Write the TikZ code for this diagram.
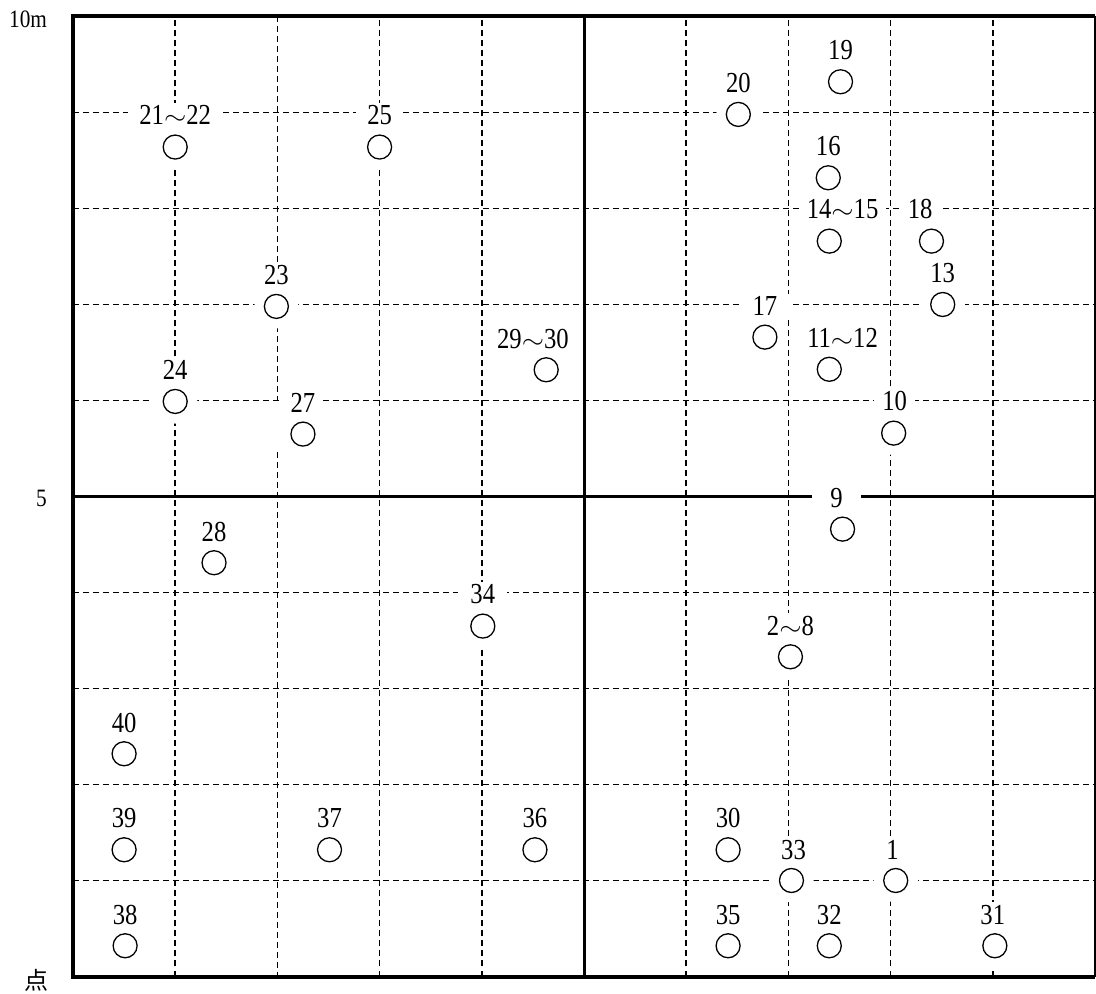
\documentclass[tikz,border=0pt]{standalone}
\usepackage{fontspec}
\setmainfont{Liberation Serif}[FakeStretch=0.85]
\newfontfamily\cjkfont{Noto Sans CJK JP}
\newcommand{\wave}{\scalebox{1.15}[1]{$\sim$}}
\begin{document}
\begin{tikzpicture}[x=102.2pt,y=96pt,
  frameline/.style={line width=4pt},
  midline/.style={line width=3pt},
  gridline/.style={line width=1.5pt, dash pattern=on 6pt off 4pt},
  pt/.style={circle, draw, line width=1.3pt, minimum size=24pt, inner sep=0pt, fill=white,
             preaction={draw=white, line width=20pt}},
  lbl/.style={fill=white, inner xsep=8pt, inner ysep=3pt, font=\fontsize{29}{29}\selectfont},
  axis/.style={font=\fontsize{25}{25}\selectfont},
]
\useasboundingbox (-73pt,-17.5pt) rectangle (1023pt,976.5pt);

% grid
\foreach \g in {1,3,4,6,7,8,9} \draw[gridline] (\g,0) -- (\g,10);
\draw[gridline] (2,10) -- (2,6);
\draw[gridline] (2,5.46) -- (2,0);
\foreach \g in {1,2,3,4,6,7,8,9} \draw[gridline] (0,\g) -- (10,\g);

% frame and middle lines
\draw[midline] (5,0) -- (5,10);
\draw[midline] (0,5) -- (10,5);
\draw[frameline] (10,10) -- (0,10) -- (0,0) -- (10,0);
\draw[line width=2pt] (10,0) -- (10,10);

% points
\foreach \n/\x/\y in {
  1/8.05/1.0, 2/7.02/3.33, 9/7.53/4.66, 10/8.03/5.66, 11/7.40/6.325,
  13/8.51/7.0, 14/7.40/7.66, 16/7.39/8.32, 17/6.77/6.66, 18/8.40/7.66,
  19/7.51/9.32, 20/6.51/8.98, 21/1.0/8.64, 23/1.99/6.98, 24/1.0/5.99,
  25/3.0/8.64, 27/2.25/5.65, 28/1.38/4.31, 29/4.63/6.32, 30/6.41/1.32,
  31/9.02/0.32, 32/7.40/0.32, 33/7.03/1.0, 34/4.01/3.65, 35/6.41/0.32,
  36/4.52/1.32, 37/2.51/1.32, 38/0.51/0.32, 39/0.5/1.32, 40/0.5/2.32}
  \node[pt] (p\n) at (\x,\y) {};

% labels
\node[lbl] (l1) at (8.02,1.32) {1};
\node[lbl] (l2) at (7.02,3.65) {2\wave 8};
\node[lbl, inner xsep=18pt] (l9) at (7.47,4.98) {9};
\node[lbl] (l10) at (8.04,5.99) {10};
\node[lbl] (l11) at (7.53,6.65) {11\wave 12};
\node[lbl] (l13) at (8.51,7.33) {13};
\node[lbl] (l14) at (7.53,7.99) {14\wave 15};
\node[lbl] (l16) at (7.39,8.65) {16};
\node[lbl, inner xsep=14pt] (l17) at (6.77,6.98) {17};
\node[lbl] (l18) at (8.29,7.99) {18};
\node[lbl] (l19) at (7.51,9.65) {19};
\node[lbl] (l20) at (6.51,9.31) {20};
\node[lbl, inner xsep=11pt] (l21) at (1.0,8.97) {21\wave 22};
\node[lbl] (l23) at (1.99,7.31) {23};
\node[lbl] (l24) at (1.0,6.32) {24};
\node[lbl, inner xsep=11pt] (l25) at (3.0,8.97) {25};
\node[lbl] (l27) at (2.25,5.98) {27};
\node[lbl] (l28) at (1.38,4.63) {28};
\node[lbl] (l29) at (4.50,6.64) {29\wave 30};
\node[lbl] (l30) at (6.41,1.65) {30};
\node[lbl] (l31) at (9.0,0.64) {31};
\node[lbl] (l32) at (7.40,0.64) {32};
\node[lbl] (l33) at (7.05,1.32) {33};
\node[lbl, inner xsep=12pt] (l34) at (4.01,3.98) {34};
\node[lbl] (l35) at (6.41,0.64) {35};
\node[lbl] (l36) at (4.52,1.65) {36};
\node[lbl] (l37) at (2.51,1.65) {37};
\node[lbl] (l38) at (0.51,0.64) {38};
\node[lbl] (l39) at (0.5,1.65) {39};
\node[lbl] (l40) at (0.5,2.64) {40};

% axis texts
\node[axis] (ax10) at (-0.44,9.97) {10m};
\node[axis] (ax5) at (-0.31,4.98) {5};
\node[font=\cjkfont\fontsize{24}{24}\selectfont] (axpt) at (-0.36,-0.04) {点};
\end{tikzpicture}
\end{document}
